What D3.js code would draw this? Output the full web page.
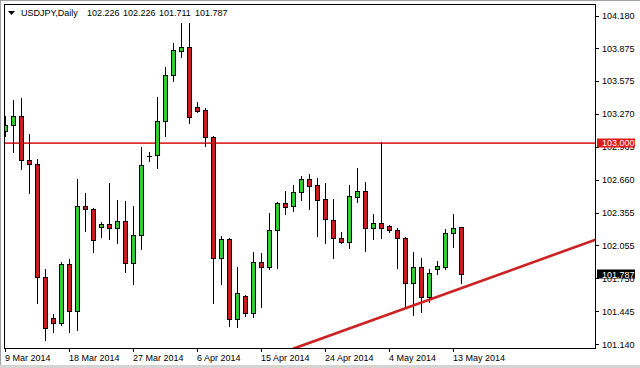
<!DOCTYPE html>
<html>
<head>
<meta charset="utf-8">
<script src="https://cdn.jsdelivr.net/npm/d3@7"></script>
<style>
  body { margin: 0; background: #fff; }
  svg { display: block; font-family: "Liberation Sans", Arial, sans-serif; font-size: 9px; }
</style>
</head>
<body>
<svg id="canvas" width="640" height="368"></svg>
<script>
const symbol = "USDJPY,Daily"

const dates = [
  "9 Mar 2014", "10 Mar 2014", "11 Mar 2014", "12 Mar 2014", "13 Mar 2014", "14 Mar 2014",
  "16 Mar 2014", "17 Mar 2014", "18 Mar 2014", "19 Mar 2014", "20 Mar 2014", "21 Mar 2014",
  "23 Mar 2014", "24 Mar 2014", "25 Mar 2014", "26 Mar 2014", "27 Mar 2014", "28 Mar 2014",
  "30 Mar 2014", "31 Mar 2014", "1 Apr 2014", "2 Apr 2014", "3 Apr 2014", "4 Apr 2014",
  "6 Apr 2014", "7 Apr 2014", "8 Apr 2014", "9 Apr 2014", "10 Apr 2014", "11 Apr 2014",
  "13 Apr 2014", "14 Apr 2014", "15 Apr 2014", "16 Apr 2014", "17 Apr 2014", "18 Apr 2014",
  "20 Apr 2014", "21 Apr 2014", "22 Apr 2014", "23 Apr 2014", "24 Apr 2014", "25 Apr 2014",
  "27 Apr 2014", "28 Apr 2014", "29 Apr 2014", "30 Apr 2014", "1 May 2014", "2 May 2014",
  "4 May 2014", "5 May 2014", "6 May 2014", "7 May 2014", "8 May 2014", "9 May 2014",
  "11 May 2014", "12 May 2014", "13 May 2014", "14 May 2014"
]

const open = [103.112, 103.168, 103.251, 102.844, 102.807, 101.762, 101.383, 101.337, 101.882, 101.448,
  102.419, 102.391, 102.225, 102.252, 102.215, 102.280, 101.892, 102.151, 102.881, 102.890,
  103.205, 103.630, 103.852, 103.889, 103.334, 103.306, 103.057, 101.938, 102.114, 101.374,
  101.587, 101.429, 101.901, 101.855, 102.197, 102.446, 102.419, 102.548, 102.668, 102.613,
  102.483, 102.289, 102.123, 102.086, 102.502, 102.557, 102.215, 102.261, 102.234, 102.197,
  102.123, 101.707, 101.855, 101.577, 101.836, 101.855, 102.169, 102.226]

const high = [103.251, 103.399, 103.417, 103.084, 102.853, 101.836, 101.420, 101.901, 101.929, 102.668,
  102.539, 102.400, 102.271, 102.631, 102.474, 102.465, 102.419, 102.964, 102.918, 103.426,
  103.704, 103.926, 104.111, 104.111, 103.380, 103.325, 103.066, 102.141, 102.123, 101.855,
  101.596, 101.993, 101.984, 102.354, 102.456, 102.557, 102.613, 102.696, 102.715, 102.678,
  102.631, 102.483, 102.178, 102.613, 102.770, 102.640, 102.345, 103.010, 102.243, 102.215,
  102.132, 101.993, 101.938, 101.836, 101.910, 102.206, 102.345, 102.226]

const low = [103.066, 102.918, 102.761, 102.539, 101.522, 101.180, 101.254, 101.318, 101.254, 101.272,
  102.188, 101.993, 102.132, 102.114, 102.077, 101.808, 101.697, 102.021, 102.835, 102.770,
  103.066, 103.574, 103.796, 103.186, 103.288, 102.973, 101.522, 101.697, 101.309, 101.300,
  101.402, 101.392, 101.485, 101.836, 101.845, 102.345, 102.372, 102.474, 102.391, 102.141,
  102.077, 101.938, 102.077, 102.030, 102.456, 102.003, 102.114, 102.123, 102.178, 101.845,
  101.476, 101.411, 101.439, 101.531, 101.790, 101.836, 102.040, 101.711]

const close = [103.168, 103.251, 102.844, 102.807, 101.762, 101.291, 101.337, 101.882, 101.448, 102.419,
  102.391, 102.104, 102.252, 102.215, 102.280, 101.892, 102.151, 102.798, 102.881, 103.205,
  103.630, 103.861, 103.889, 103.242, 103.297, 103.057, 101.938, 102.114, 101.374, 101.614,
  101.429, 101.901, 101.855, 102.197, 102.446, 102.409, 102.548, 102.668, 102.604, 102.474,
  102.298, 102.123, 102.086, 102.511, 102.557, 102.215, 102.261, 102.215, 102.197, 102.123,
  101.707, 101.855, 101.577, 101.799, 101.864, 102.169, 102.215, 101.787]

const priceTicks = [104.180, 103.875, 103.575, 103.270, 102.965, 102.660, 102.355, 102.055, 101.750, 101.445, 101.140]
const dateTicks = ["9 Mar 2014", "18 Mar 2014", "27 Mar 2014", "6 Apr 2014", "15 Apr 2014", "24 Apr 2014", "4 May 2014", "13 May 2014"]

const levelPrice = 103.000
// trend line drawn by hand on the chart: [bar index, price]
const trendIdx = [36, 74]
const trendPrice = [101.098, 102.112]

const canvas = d3.select("#canvas")

const plotL = 4, plotR = 595, plotT = 4, plotB = 348

const x = d3.scaleLinear().domain([0, dates.length - 1]).range([5, 461])
const y = d3.scaleLinear().domain([101.140, 104.180]).range([344.3, 15.5])
const snap = (v) => Math.round(v) + 0.5

const bull = "#30cc30"
const bear = "#cc1c1c"

// window edges
canvas.append("rect").attr("width", 640).attr("height", 368).attr("fill", "#fff")
canvas.append("line").attr("x1", 0).attr("x2", 640).attr("y1", 0.5).attr("y2", 0.5).attr("stroke", "#a0a0a0")
canvas.append("line").attr("x1", 0.5).attr("x2", 0.5).attr("y1", 0).attr("y2", 368).attr("stroke", "#a0a0a0")
canvas.append("rect").attr("x", 0).attr("y", 365).attr("width", 640).attr("height", 3).attr("fill", "#d4d4d4")

canvas.append("clipPath").attr("id", "plotclip")
      .append("rect").attr("x", plotL).attr("y", plotT).attr("width", plotR - plotL).attr("height", plotB - plotT)

const plot = canvas.append("g").attr("clip-path", "url(#plotclip)")

// horizontal level
plot.append("line")
    .attr("x1", plotL).attr("x2", plotR)
    .attr("y1", y(levelPrice)).attr("y2", y(levelPrice))
    .attr("stroke", "#dd3030").attr("stroke-width", 1.6)

// candles
const candle = plot.selectAll("g.candle")
                   .data(d3.range(dates.length))
                   .enter()
                   .append("g")
                   .attr("class", "candle")

candle.append("line")
      .attr("x1", (i) => x(i) + 0.5)
      .attr("x2", (i) => x(i) + 0.5)
      .attr("y1", (i) => snap(y(high[i])) - 0.5)
      .attr("y2", (i) => snap(y(low[i])) + 0.5)
      .attr("stroke", "#000")

candle.each(function (i) {
  const g = d3.select(this)
  const yTop = snap(y(Math.max(open[i], close[i])))
  const yBot = snap(y(Math.min(open[i], close[i])))
  if (yBot - yTop < 1) {
    g.append("line")
     .attr("x1", x(i) - 2).attr("x2", x(i) + 3)
     .attr("y1", yTop).attr("y2", yTop)
     .attr("stroke", "#000")
  } else {
    g.append("rect")
     .attr("x", x(i) - 1.5)
     .attr("y", yTop)
     .attr("width", 4)
     .attr("height", yBot - yTop)
     .attr("fill", close[i] > open[i] ? bull : bear)
     .attr("stroke", "#000")
  }
})

// trend line
plot.append("line")
    .attr("x1", x(trendIdx[0])).attr("y1", y(trendPrice[0]))
    .attr("x2", x(trendIdx[1])).attr("y2", y(trendPrice[1]))
    .attr("stroke", "#cc2222").attr("stroke-width", 2.6)

// frame
canvas.append("rect")
      .attr("x", plotL + 0.5).attr("y", plotT + 0.5)
      .attr("width", plotR - plotL).attr("height", plotB - plotT)
      .attr("fill", "none").attr("stroke", "#000")

// price axis
const pAxis = canvas.append("g")
pAxis.selectAll("line")
     .data(priceTicks)
     .enter()
     .append("line")
     .attr("x1", plotR).attr("x2", plotR + 4)
     .attr("y1", (p) => snap(y(p))).attr("y2", (p) => snap(y(p)))
     .attr("stroke", "#000")
pAxis.selectAll("text")
     .data(priceTicks)
     .enter()
     .append("text")
     .attr("x", 602)
     .attr("y", (p) => y(p) + 3.3)
     .attr("fill", "#000")
     .text((p) => p.toFixed(3))

const tag = (price, bg) => {
  const g = canvas.append("g")
  const cy = y(price)
  g.append("rect").attr("x", 597).attr("y", Math.round(cy) - 4.5).attr("width", 38).attr("height", 9).attr("fill", bg)
  g.append("text").attr("x", 602).attr("y", cy + 3.3).attr("fill", "#fff").text(price.toFixed(3))
}
tag(levelPrice, "#e01818")
tag(close[close.length - 1], "#000")

// date axis
const dAxis = canvas.append("g")
dAxis.selectAll("line")
     .data(dateTicks)
     .enter()
     .append("line")
     .attr("x1", (d) => x(dates.indexOf(d)) + 0.5)
     .attr("x2", (d) => x(dates.indexOf(d)) + 0.5)
     .attr("y1", plotB).attr("y2", plotB + 4)
     .attr("stroke", "#000")
dAxis.selectAll("text")
     .data(dateTicks)
     .enter()
     .append("text")
     .attr("x", (d) => x(dates.indexOf(d)))
     .attr("y", 360.5)
     .attr("fill", "#000")
     .text((d) => d)

// header
const last = dates.length - 1
canvas.append("path").attr("d", "M8,11 L15,11 L11.5,15 Z").attr("fill", "#000")
const header = canvas.append("text").attr("y", 16).attr("fill", "#000")
header.append("tspan").attr("x", 21).text(symbol)
;[open[last], high[last], low[last], close[last]].forEach((v, k) => {
  header.append("tspan").attr("x", 87 + 36 * k).text(v.toFixed(3))
})
</script>
</body>
</html>
